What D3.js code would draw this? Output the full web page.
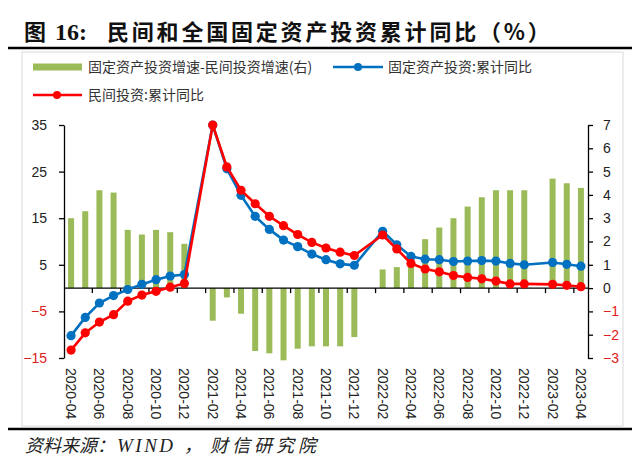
<!DOCTYPE html>
<html><head><meta charset="utf-8">
<script src="https://cdn.jsdelivr.net/npm/d3@7"></script>
<style>
html,body{margin:0;padding:0;background:#fff;}
svg{display:block;}
</style></head>
<body>
<svg id="chart" width="640" height="467"></svg>
<script>
// ---- data ----
const months = [
 "2020-04","2020-05","2020-06","2020-07","2020-08","2020-09","2020-10","2020-11","2020-12",
 "2021-01","2021-02","2021-03","2021-04","2021-05","2021-06","2021-07","2021-08","2021-09","2021-10","2021-11","2021-12",
 "2022-01","2022-02","2022-03","2022-04","2022-05","2022-06","2022-07","2022-08","2022-09","2022-10","2022-11","2022-12",
 "2023-01","2023-02","2023-03","2023-04"];
const faiCum = [
 -10.2,-6.3,-3.2,-1.6,-0.3,0.8,1.8,2.6,2.9,
 null,35.0,25.6,19.9,15.4,12.6,10.3,8.9,7.3,6.1,5.2,4.9,
 null,12.2,9.3,6.8,6.2,6.1,5.7,5.8,5.9,5.8,5.3,5.0,
 null,5.5,5.1,4.7];
const privateCum = [
 -13.3,-9.6,-7.3,-5.7,-2.8,-1.5,-0.7,0.2,1.0,
 null,35.0,26.0,21.0,18.1,15.4,13.4,11.5,9.8,8.6,7.7,7.0,
 null,11.4,8.4,5.3,4.1,3.5,2.7,2.3,2.0,1.5,0.9,0.9,
 null,0.8,0.6,0.3];
const gapDiff = [
 3.0,3.3,4.2,4.1,2.5,2.3,2.5,2.4,1.9,
 null,-1.4,-0.4,-1.1,-2.7,-2.8,-3.1,-2.6,-2.5,-2.5,-2.5,-2.1,
 null,0.8,0.9,1.5,2.1,2.6,3.0,3.5,3.9,4.2,4.2,4.2,
 null,4.7,4.5,4.3];
const leftTicks = [-15,-5,5,15,25,35];
const rightTicks = [-3,-2,-1,0,1,2,3,4,5,6,7];
const labelMonths = months.filter((m,i)=>i%2===0);
const seriesNames = ["固定资产投资增速-民间投资增速(右)","固定资产投资:累计同比","民间投资:累计同比"];
const titleText = "民间和全国固定资产投资累计同比（%）";
const sourceText = ["资料来源：","WIND","，","财信研究院"];

// ---- chart ----
const svg = d3.select("#chart");
const GREEN="#9BBB59", BLUE="#0070C0", RED="#FF0000";
const x = d3.scaleBand().domain(months).range([64,588]).padding(0);
const yL = d3.scaleLinear().domain([-15,35]).range([358,125]);
const yR = d3.scaleLinear().domain([-3,7]).range([358,125]);
const bw = x.bandwidth();
const cx = m => x(m)+bw/2;

// title
const t = svg.append("text").attr("x",24).attr("y",40)
  .attr("font-size",22).attr("font-weight","bold").attr("fill","#111")
  .attr("font-family","'Noto Sans CJK SC',sans-serif");
t.append("tspan").text("图");
t.append("tspan").attr("x",55).attr("font-family","'Liberation Serif',serif").attr("font-size",24).text("16:");
t.append("tspan").attr("x",107).attr("letter-spacing",2.8).text(titleText);
svg.append("line").attr("x1",8).attr("x2",632).attr("y1",48).attr("y2",48)
  .attr("stroke","#000").attr("stroke-width",2.6);

// border
svg.append("rect").attr("x",22).attr("y",52).attr("width",601).attr("height",374)
  .attr("fill","none").attr("stroke","#d9d9d9").attr("stroke-width",1);

// bars
svg.append("g").selectAll("rect")
  .data(months.map((m,i)=>({m,v:gapDiff[i]})).filter(d=>d.v!=null))
  .join("rect")
  .attr("x",d=>cx(d.m)-3).attr("width",6)
  .attr("y",d=>Math.min(yR(d.v),yR(0)))
  .attr("height",d=>Math.abs(yR(d.v)-yR(0)))
  .attr("fill",GREEN);

// left axis
const gL = svg.append("g").attr("transform","translate(64,0)")
  .call(d3.axisLeft(yL).tickValues(leftTicks).tickSize(5).tickSizeOuter(0).tickPadding(12));
gL.select(".domain").attr("stroke","#000").attr("stroke-width",1.3);
gL.selectAll(".tick line").attr("stroke","#000").attr("stroke-width",1.3);
gL.selectAll(".tick text").attr("font-size",14).attr("font-family","'Liberation Sans',sans-serif")
  .attr("fill",d=>d<0?"#e02020":"#222");

// right axis
const gR = svg.append("g").attr("transform","translate(588,0)")
  .call(d3.axisRight(yR).tickValues(rightTicks).tickSize(5).tickSizeOuter(0).tickPadding(10));
gR.select(".domain").attr("stroke","#000").attr("stroke-width",1.3);
gR.selectAll(".tick line").attr("stroke","#000").attr("stroke-width",1.3);
gR.selectAll(".tick text").attr("font-size",14).attr("font-family","'Liberation Sans',sans-serif")
  .attr("fill",d=>d<0?"#e02020":"#222");

// zero axis line + tick marks between months
const gX = svg.append("g").attr("transform",`translate(0,${yL(0)})`);
gX.append("line").attr("x1",64).attr("x2",588).attr("stroke","#000").attr("stroke-width",1.3);
gX.selectAll("line.tk").data(labelMonths.slice(1)).join("line").attr("class","tk")
  .attr("x1",d=>x(d)).attr("x2",d=>x(d)).attr("y1",0).attr("y2",5)
  .attr("stroke","#000").attr("stroke-width",1.3);

// month labels (rotated)
const gLab = svg.append("g").attr("transform","translate(0,368)")
  .call(d3.axisBottom(x).tickValues(labelMonths).tickSize(0).tickPadding(0));
gLab.select(".domain").remove();
gLab.selectAll(".tick text").attr("font-size",14).attr("font-family","'Liberation Sans',sans-serif")
  .attr("fill","#222").attr("transform","rotate(90)").attr("text-anchor","start")
  .attr("dy","0.35em").attr("x",0).attr("y",0);

// lines
function drawSeries(vals,color){
  const pts = months.map((m,i)=>({m,v:vals[i]})).filter(d=>d.v!=null);
  const g = svg.append("g");
  g.append("path").datum(pts)
   .attr("d",d3.line().x(d=>cx(d.m)).y(d=>yL(d.v)))
   .attr("fill","none").attr("stroke",color).attr("stroke-width",2.6);
  g.selectAll("circle").data(pts).join("circle")
   .attr("cx",d=>cx(d.m)).attr("cy",d=>yL(d.v)).attr("r",4.6).attr("fill",color);
}
drawSeries(faiCum,BLUE);
drawSeries(privateCum,RED);

// legend
const lg = svg.append("g").attr("font-family","'Noto Sans CJK SC',sans-serif").attr("font-size",14).attr("fill","#333");
lg.append("rect").attr("x",33).attr("y",63.5).attr("width",49).attr("height",7).attr("fill",GREEN);
lg.append("text").attr("x",88).attr("y",67).attr("dy","0.35em").text(seriesNames[0]);
lg.append("line").attr("x1",333).attr("x2",383).attr("y1",67).attr("y2",67).attr("stroke",BLUE).attr("stroke-width",2.6);
lg.append("circle").attr("cx",358).attr("cy",67).attr("r",4).attr("fill",BLUE);
lg.append("text").attr("x",388).attr("y",67).attr("dy","0.35em").text(seriesNames[1]);
lg.append("line").attr("x1",33).attr("x2",82).attr("y1",95).attr("y2",95).attr("stroke",RED).attr("stroke-width",2.6);
lg.append("circle").attr("cx",57).attr("cy",95).attr("r",4).attr("fill",RED);
lg.append("text").attr("x",88).attr("y",95).attr("dy","0.35em").text(seriesNames[2]);

// bottom rule and source
svg.append("line").attr("x1",8).attr("x2",632).attr("y1",429).attr("y2",429)
  .attr("stroke","#000").attr("stroke-width",2.6);
const s = svg.append("text").attr("x",25).attr("y",452).attr("font-size",18).attr("font-style","italic")
  .attr("fill","#222").attr("font-family","'Noto Sans CJK SC',sans-serif");
s.append("tspan").text(sourceText[0]);
s.append("tspan").attr("x",117).attr("font-family","'Liberation Serif',serif").attr("font-size",19).attr("letter-spacing",2.5).text(sourceText[1]);
s.append("tspan").attr("x",184).text(sourceText[2]);
s.append("tspan").attr("x",210).attr("letter-spacing",4).text(sourceText[3]);
</script>
</body></html>
